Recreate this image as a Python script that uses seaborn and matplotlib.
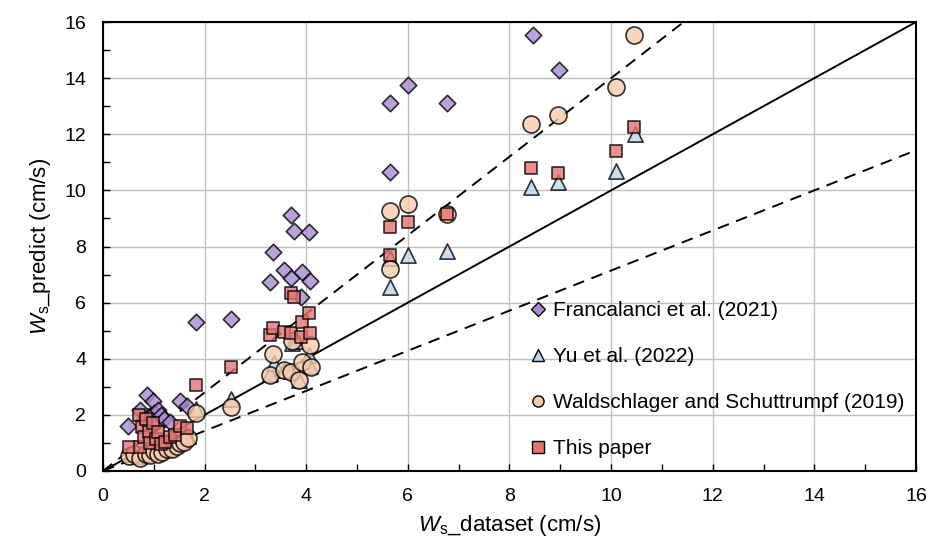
import numpy as np
import pandas as pd
import matplotlib
matplotlib.use("Agg")
import matplotlib.pyplot as plt
import seaborn as sns
from matplotlib.ticker import MultipleLocator
from matplotlib.lines import Line2D

# ---- data ----
Fx = [0.50, 0.73, 0.80, 0.86, 0.90, 0.98, 1.00, 1.05, 1.09, 1.15, 1.20, 1.32, 1.52, 1.66, 1.84, 2.51,
      3.29, 3.35, 3.56, 3.71, 3.71, 3.76, 3.89, 3.92, 4.05, 4.07, 5.64, 5.64, 6.00, 6.77, 8.46, 8.98]
Fy = [1.60, 2.17, 1.80, 2.72, 1.95, 2.50, 2.05, 1.70, 2.17, 2.00, 1.85, 1.76, 2.50, 2.30, 5.30, 5.40,
      6.75, 7.81, 7.16, 9.12, 6.88, 8.54, 6.21, 7.10, 8.53, 6.78, 13.11, 10.67, 13.76, 13.13, 15.52, 14.28]

Yx = [0.55, 0.70, 0.85, 0.95, 1.05, 1.15, 1.25, 1.40, 1.55, 1.68, 1.84, 2.51, 3.29, 3.36, 3.56, 3.71,
      3.72, 3.80, 3.86, 4.05, 4.07, 5.64, 5.64, 6.00, 6.77, 8.42, 8.96, 10.10, 10.48]
Yy = [0.60, 0.55, 0.65, 0.70, 0.75, 0.80, 0.90, 1.00, 1.10, 1.25, 2.22, 2.58, 3.45, 3.85, 3.60, 3.55,
      4.56, 4.65, 3.25, 4.12, 3.75, 6.55, 7.60, 7.70, 7.85, 10.12, 10.30, 10.68, 12.00]

Wx = [0.52, 0.62, 0.73, 0.85, 0.93, 1.00, 1.08, 1.16, 1.25, 1.35, 1.45, 1.52, 1.60, 1.68, 1.84, 2.51,
      3.29, 3.35, 3.56, 3.71, 3.72, 3.86, 3.92, 4.07, 4.10, 5.64, 5.64, 6.00, 6.77, 8.42, 8.96, 10.10, 10.46]
Wy = [0.55, 0.60, 0.48, 0.62, 0.57, 0.70, 0.62, 0.69, 0.78, 0.80, 0.90, 0.99, 1.05, 1.17, 2.05, 2.28,
      3.43, 4.18, 3.59, 3.53, 4.65, 3.23, 3.88, 4.50, 3.70, 9.25, 7.20, 9.52, 9.15, 12.36, 12.69, 13.68, 15.55]

Tx = [0.52, 0.70, 0.73, 0.76, 0.80, 0.85, 0.90, 0.93, 0.99, 1.05, 1.08, 1.15, 1.22, 1.32, 1.42, 1.52,
      1.65, 1.84, 2.51, 3.29, 3.35, 3.56, 3.71, 3.71, 3.76, 3.89, 3.91, 4.05, 4.07, 5.64, 5.64, 6.00,
      6.77, 8.42, 8.96, 10.10, 10.46]
Ty = [0.84, 2.00, 0.87, 1.58, 1.22, 1.85, 1.40, 1.00, 1.71, 1.15, 1.40, 0.95, 1.03, 1.22, 1.28, 1.60,
      1.53, 3.05, 3.70, 4.83, 5.09, 4.97, 6.33, 4.92, 6.19, 4.77, 5.30, 5.63, 4.92, 8.69, 7.68, 8.87,
      9.15, 10.80, 10.62, 11.40, 12.26]

labels = ["Francalanci et al. (2021)", "Yu et al. (2022)",
          "Waldschlager and Schuttrumpf (2019)", "This paper"]
ref_slopes = [1.0, 1.4, 1 / 1.4]
axis_lim = [0, 16]

# ---- style ----
sns.set_style("white")
plt.rcParams['font.family'] = ['Liberation Sans', 'DejaVu Sans']
plt.rcParams['mathtext.fontset'] = 'custom'
plt.rcParams['mathtext.it'] = 'Liberation Sans:italic'
plt.rcParams['mathtext.rm'] = 'Liberation Sans'
plt.rcParams['text.color'] = 'black'
plt.rcParams['axes.labelcolor'] = 'black'
plt.rcParams['xtick.color'] = 'black'
plt.rcParams['ytick.color'] = 'black'

fig = plt.figure(figsize=(9.27, 5.42), dpi=100)
ax = fig.add_axes([0.1111, 0.131, 0.8770, 0.8284])

colors = ["#A98BD0", "#BDD7EE", "#F8CBAD", "#E57373"]
markers = ["D", "^", "o", "s"]
sizes = [70, 120, 150, 80]
series = [(Fx, Fy), (Yx, Yy), (Wx, Wy), (Tx, Ty)]

ax.grid(True, color="#BFBFBF", linewidth=1.0, zorder=0)
ax.set_axisbelow(True)

xs = np.array(axis_lim, dtype=float)
for s, ls in zip(ref_slopes, ["-", "--", "--"]):
    ax.plot(xs, s * xs, color="black", linestyle=ls, linewidth=1.4,
            dashes=(6, 4) if ls == "--" else (None, None), zorder=2)

for (x, y), c, m, sz, lab in zip(series, colors, markers, sizes, labels):
    df = pd.DataFrame({"x": x, "y": y})
    sns.scatterplot(data=df, x="x", y="y", ax=ax, color=c, marker=m, s=sz,
                    edgecolor="black", linewidth=1.2, alpha=0.8, zorder=3, legend=False)

ax.set_xlim(*axis_lim)
ax.set_ylim(*axis_lim)
ax.xaxis.set_major_locator(MultipleLocator(2))
ax.yaxis.set_major_locator(MultipleLocator(2))
ax.xaxis.set_minor_locator(MultipleLocator(1))
ax.yaxis.set_minor_locator(MultipleLocator(1))
ax.tick_params(which="both", direction="in", length=5, width=1.0, color="black",
               labelsize=14, labelcolor="black", bottom=True, left=True, top=False, right=False)
ax.tick_params(axis="x", pad=12)
ax.tick_params(axis="y", pad=12)
for sp in ax.spines.values():
    sp.set_visible(True)
    sp.set_color("black")
    sp.set_linewidth(1.5)

ax.set_xlabel(r"$W_{\mathrm{s}}$_dataset (cm/s)", fontsize=16, labelpad=6, color="black")
ax.set_ylabel(r"$W_{\mathrm{s}}$_predict (cm/s)", fontsize=16, labelpad=8, color="black")

handles = [Line2D([], [], linestyle="none", marker=m, markersize=8 if m != "D" else 7,
                  markerfacecolor=c, markeredgecolor="black", markeredgewidth=1.0)
           for c, m in zip(colors, markers)]
ax.legend(handles, labels, loc="center left", bbox_to_anchor=(0.515, 0.203),
          frameon=False, fontsize=15, handlelength=0.8, handletextpad=0.3,
          labelspacing=1.3, borderaxespad=0, labelcolor="black")

fig.savefig("out.png", dpi=100)
